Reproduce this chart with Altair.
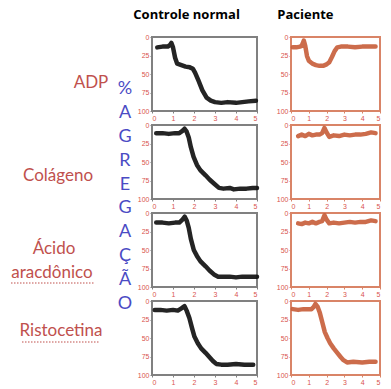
import altair as alt
import pandas as pd

# ---------------- data ----------------
reagents = ["ADP", "Colágeno", "Ácido aracdônico", "Ristocetina"]
label_lines = [["ADP"], ["Colágeno"], ["Ácido", "aracdônico"], ["Ristocetina"]]
axis_letters = ["%", "A", "G", "R", "E", "G", "A", "Ç", "Ã", "O"]
col_titles = ["Controle normal", "Paciente"]
x_ticks = [0, 1, 2, 3, 4, 5]
y_ticks = [0, 25, 50, 75, 100]

ctrl_adp_x = [0.25, 0.5, 0.75, 0.85, 0.92, 1.0, 1.1, 1.2, 1.4, 1.6, 1.8, 1.95, 2.05, 2.2, 2.4, 2.6, 2.8, 3.0, 3.3, 3.6, 4.0, 4.3, 4.6, 4.95]
ctrl_adp_y = [14, 13, 13, 11, 8, 14, 28, 36, 38, 40, 41, 43, 48, 58, 72, 82, 86, 88, 89, 88, 89, 88, 87, 86]

ctrl_col_x = [0.2, 0.5, 0.8, 1.1, 1.3, 1.45, 1.55, 1.65, 1.75, 1.85, 1.98, 2.14, 2.3, 2.55, 2.75, 2.95, 3.19, 3.4, 3.7, 3.9, 4.2, 4.5, 4.8, 5.0]
ctrl_col_y = [11, 11, 12, 11, 11, 8, 5, 9, 17, 30, 43, 54, 61, 68, 74, 79, 85, 86, 85, 87, 86, 86, 85, 85]

ctrl_aa_x = [0.2, 0.5, 0.8, 1.1, 1.3, 1.45, 1.56, 1.65, 1.75, 1.85, 1.99, 2.14, 2.3, 2.55, 2.75, 2.95, 3.15, 3.4, 3.7, 4.0, 4.3, 4.6, 5.0]
ctrl_aa_y = [13, 13, 14, 13, 13, 9, 5, 10, 20, 35, 50, 58, 65, 72, 78, 83, 86, 86, 86, 87, 86, 86, 86]

ctrl_ris_x = [0.13, 0.4, 0.7, 1.0, 1.23, 1.4, 1.55, 1.65, 1.78, 1.9, 2.02, 2.18, 2.34, 2.55, 2.74, 2.9, 3.06, 3.3, 3.6, 4.0, 4.4, 4.82]
ctrl_ris_y = [12, 12, 13, 12, 13, 10, 7, 13, 23, 36, 48, 57, 64, 70, 76, 81, 85, 86, 86, 85, 86, 86]

pat_adp_x = [0.1, 0.3, 0.5, 0.6, 0.72, 0.8, 0.9, 1.0, 1.2, 1.4, 1.6, 1.8, 2.0, 2.15, 2.3, 2.45, 2.6, 2.8, 3.2, 3.6, 4.0, 4.4, 4.75]
pat_adp_y = [14, 14, 13, 12, 5, 12, 26, 32, 36, 38, 39, 39, 37, 34, 27, 19, 14, 13, 13, 14, 13, 13, 13]

pat_col_x = [0.4, 0.6, 0.8, 1.0, 1.2, 1.4, 1.6, 1.75, 1.88, 2.0, 2.15, 2.4, 2.7, 3.0, 3.3, 3.6, 3.9, 4.2, 4.5, 4.75]
pat_col_y = [15, 13, 15, 12, 14, 13, 13, 11, 4, 10, 16, 14, 15, 13, 14, 13, 13, 12, 10, 11]

pat_aa_x = [0.4, 0.6, 0.8, 1.0, 1.2, 1.4, 1.6, 1.75, 1.88, 2.0, 2.15, 2.4, 2.7, 3.0, 3.3, 3.6, 3.9, 4.2, 4.5, 4.75]
pat_aa_y = [14, 15, 13, 14, 12, 14, 12, 11, 3, 9, 14, 13, 14, 13, 12, 13, 12, 12, 10, 11]

pat_ris_x = [0.1, 0.4, 0.7, 1.0, 1.15, 1.28, 1.37, 1.5, 1.62, 1.75, 1.9, 2.05, 2.2, 2.4, 2.6, 2.8, 2.95, 3.15, 3.5, 4.0, 4.4, 4.75]
pat_ris_y = [11, 12, 11, 11, 11, 8, 4, 8, 16, 28, 42, 50, 57, 64, 70, 76, 80, 83, 82, 83, 82, 82]

control_series = [(ctrl_adp_x, ctrl_adp_y), (ctrl_col_x, ctrl_col_y), (ctrl_aa_x, ctrl_aa_y), (ctrl_ris_x, ctrl_ris_y)]
patient_series = [(pat_adp_x, pat_adp_y), (pat_col_x, pat_col_y), (pat_aa_x, pat_aa_y), (pat_ris_x, pat_ris_y)]

# ---------------- styles ----------------
RED_LABEL = "#c0504d"
BLUE = "#4b4bc4"
TICK_RED = "#d9534f"
CTRL_LINE = "#111111"
CTRL_FRAME = "#808080"
PAT_LINE = "#c8603c"
PAT_FRAME = "#d98467"
PANEL_H = 74
ROW_GAP = 14


def panel(xs, ys, line_color, frame_color, width, title=None, title_dx=0):
    df = pd.DataFrame({"t": xs, "v": ys})
    x_axis = alt.Axis(values=x_ticks, format="d", labelColor=TICK_RED, labelFontSize=7,
                      tickColor=frame_color, tickSize=2, domain=False, grid=False,
                      labelPadding=1, title=None)
    y_axis = alt.Axis(values=y_ticks, format="d", labelColor=TICK_RED, labelFontSize=7,
                      tickColor=frame_color, tickSize=2, domain=False, grid=False,
                      labelPadding=1, title=None)
    props = dict(width=width, height=PANEL_H,
                 view=alt.ViewBackground(stroke=frame_color, strokeWidth=2, fill="white"))
    if title is not None:
        props["title"] = alt.Title(title, anchor="start", dx=title_dx, fontSize=13,
                                   fontWeight="bold", font="Open Sans", color="black", offset=11)
    return alt.Chart(df).mark_line(
        color=line_color, strokeWidth=4.5, strokeCap="round", strokeJoin="round", opacity=0.92
    ).encode(
        x=alt.X("t:Q", scale=alt.Scale(domain=[0, 5], nice=False), axis=x_axis),
        y=alt.Y("v:Q", scale=alt.Scale(domain=[0, 100], reverse=True, nice=False), axis=y_axis),
    ).properties(**props)


ctrl_panels = [
    panel(xs, ys, CTRL_LINE, CTRL_FRAME, 105,
          title=col_titles[0] if i == 0 else None, title_dx=-4)
    for i, (xs, ys) in enumerate(control_series)
]
pat_panels = [
    panel(xs, ys, PAT_LINE, PAT_FRAME, 89,
          title=col_titles[1] if i == 0 else None, title_dx=1)
    for i, (xs, ys) in enumerate(patient_series)
]

# ---------------- left annotation column ----------------
LEFT_W = 110
dummy = pd.DataFrame({"k": [0]})

label_pos = [[(83, 46)], [(50, 139)], [(46, 212), (44, 236)], [(53, 294)]]
layers = []
for lines, poss in zip(label_lines, label_pos):
    for txt, (px, py) in zip(lines, poss):
        layers.append(
            alt.Chart(dummy).mark_text(text=txt, font="Lato", fontSize=17, color=RED_LABEL,
                                       align="center", baseline="middle")
            .encode(x=alt.value(px), y=alt.value(py))
        )

# spell-check style dotted underline below the last two reagent labels
for (x1, x2, yy) in [(3, 86, 246), (14, 92, 305)]:
    layers.append(
        alt.Chart(dummy).mark_rule(color=RED_LABEL, strokeWidth=1.2, strokeDash=[1.5, 1.5])
        .encode(x=alt.value(x1), x2=alt.value(x2), y=alt.value(yy))
    )

letters_df = pd.DataFrame({"ch": axis_letters, "i": list(range(len(axis_letters)))})
layers.append(
    alt.Chart(letters_df).mark_text(font="Lato", fontSize=18, color=BLUE,
                                    align="center", baseline="middle")
    .encode(
        x=alt.value(117),
        y=alt.Y("i:Q", scale=alt.Scale(domain=[0, 9], range=[52, 267]), axis=None),
        text="ch:N",
    )
)

left_top = alt.layer(*layers).properties(width=LEFT_W, height=PANEL_H,
                                          view=alt.ViewBackground(stroke=None))


def blank():
    return alt.Chart(dummy).mark_text(text="").encode(
        x=alt.value(0), y=alt.value(0)
    ).properties(width=LEFT_W, height=PANEL_H, view=alt.ViewBackground(stroke=None))


cells = []
for i in range(4):
    cells.append(left_top if i == 0 else blank())
    cells.append(ctrl_panels[i])
    cells.append(pat_panels[i])

chart = alt.concat(*cells, columns=3, spacing=alt.RowColnumber(row=ROW_GAP, column=34),
                   bounds="flush").properties(
    padding=0, background="white"
).configure_view(strokeWidth=0)

chart.save("out.html", embed_options={"renderer": "svg", "actions": False})
